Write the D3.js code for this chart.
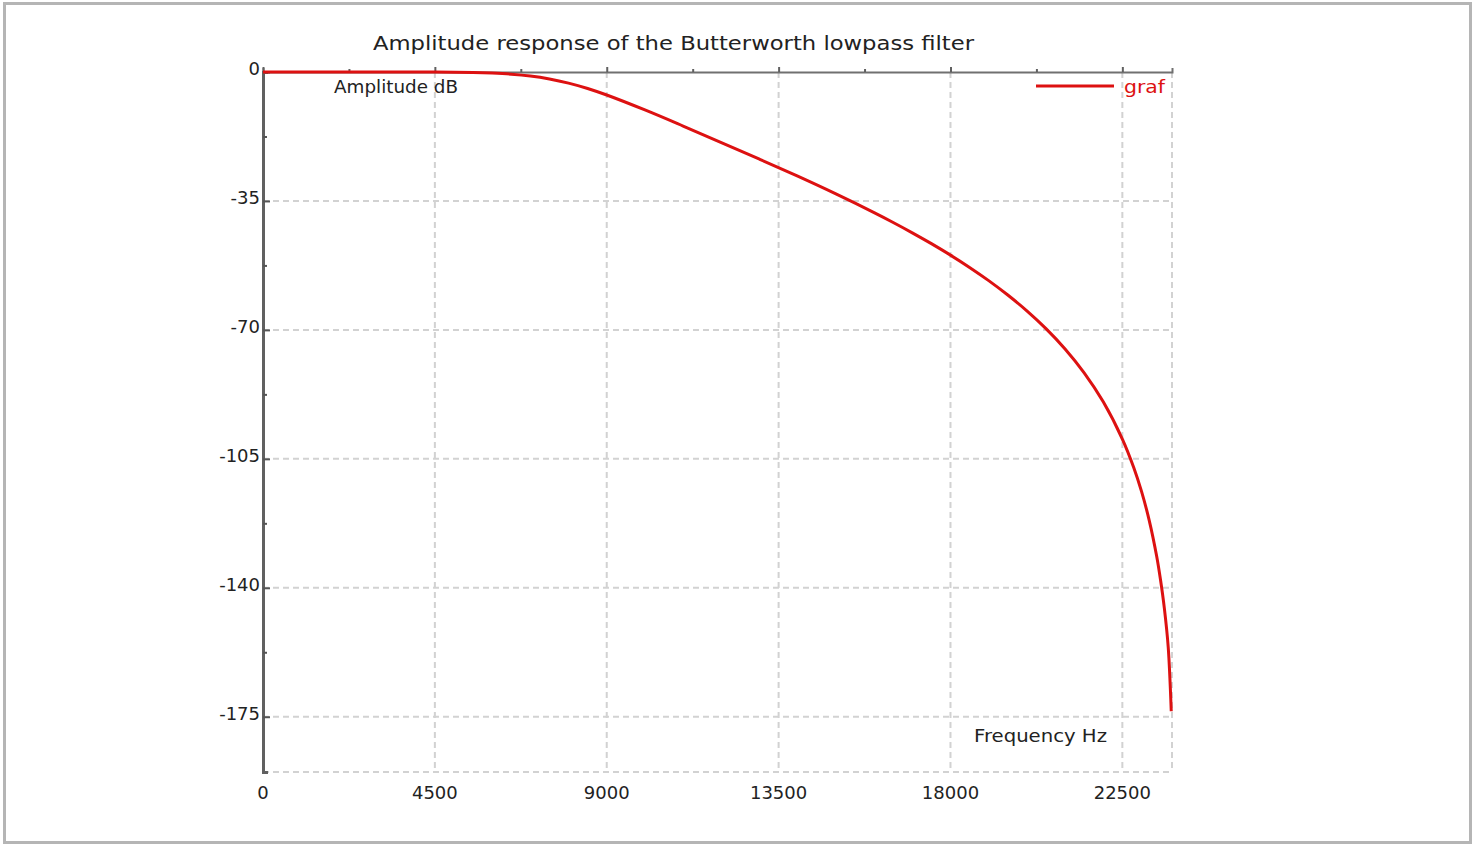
<!DOCTYPE html>
<html>
<head>
  <title>Butterworth amplitude response</title>
  <script src="https://d3js.org/d3.v7.min.js"></script>
  <style>
    body { margin: 0; background: #fff; }
    text { font-family: "DejaVu Sans", sans-serif; fill: #222; }
  </style>
</head>
<body>
  <script>
    // Values
    var freqHz = [0, 1500, 3000, 4500, 5500, 6000, 6500, 7000, 7500, 8000, 8500, 9000,
      10000, 11000, 12000, 13000, 14000, 15000, 16000, 16500, 17000, 17500, 18000, 18500,
      19000, 19500, 20000, 20500, 21000, 21500, 22000, 22500, 22800, 23000, 23200, 23400,
      23500, 23600, 23700, 23780];
    var ampDb = [0, 0, 0, -0.03, -0.14, -0.3, -0.58, -1.08, -1.88, -3.01, -4.47, -6.25,
      -10.31, -14.67, -19.14, -23.67, -28.29, -33.1, -38.17, -40.85, -43.65, -46.59, -49.71, -53.04,
      -56.62, -60.53, -64.84, -69.67, -75.19, -81.66, -89.53, -99.62, -107.4, -113.77, -121.54, -131.5,
      -137.9, -145.6, -156, -173.5];
    var xTicks = [0, 4500, 9000, 13500, 18000, 22500];
    var yTicks = [0, -35, -70, -105, -140, -175];
    var xMinor = [2250, 6750, 11250, 15750, 20250];
    var yMinor = [-17.5, -52.5, -87.5, -122.5, -157.5];

    var width = 1481, height = 845;
    var margin = {top: 72, right: 309, bottom: 73, left: 263};
    var red = "#dd1111";

    var svg = d3.select("body").append("svg")
      .attr("width", width)
      .attr("height", height);

    // outer frame
    svg.append("rect")
      .attr("x", 4.5).attr("y", 3.5)
      .attr("width", 1466).attr("height", 839)
      .attr("fill", "none")
      .attr("stroke", "#b5b5b5")
      .attr("stroke-width", 3);

    var x = d3.scaleLinear()
      .domain([0, 23800])
      .range([margin.left, width - margin.right]);
    var y = d3.scaleLinear()
      .domain([-190, 0])
      .range([height - margin.bottom, margin.top]);

    var data = freqHz.map(function(f, i) { return {f: f, a: ampDb[i]}; });

    // grid
    var gridX = xTicks.slice(1).concat([23800]);
    svg.append("g").selectAll("line")
      .data(gridX)
      .enter().append("line")
      .attr("x1", function(d) { return x(d); })
      .attr("x2", function(d) { return x(d); })
      .attr("y1", y(0)).attr("y2", y(-190))
      .attr("stroke", "#d2d2d2")
      .attr("stroke-width", 2)
      .attr("stroke-dasharray", "6,4");

    var gridY = yTicks.slice(1).concat([-190]);
    svg.append("g").selectAll("line")
      .data(gridY)
      .enter().append("line")
      .attr("x1", x(0)).attr("x2", x(23800))
      .attr("y1", function(d) { return y(d); })
      .attr("y2", function(d) { return y(d); })
      .attr("stroke", "#d2d2d2")
      .attr("stroke-width", 2)
      .attr("stroke-dasharray", "6,4");

    // top axis (at 0 dB) with small upward ticks
    var topAxis = d3.axisTop(x)
      .tickValues(xTicks.concat(xMinor))
      .tickSize(4)
      .tickFormat("");
    svg.append("g")
      .attr("transform", "translate(0," + y(0) + ")")
      .call(topAxis)
      .call(function(g) {
        g.select(".domain").attr("stroke", "#707070").attr("stroke-width", 2);
        g.selectAll(".tick line").attr("stroke", "#606060").attr("stroke-width", 2)
          .attr("y2", function(d) { return xMinor.indexOf(d) >= 0 ? -3 : -5; });
      });

    // left axis with inward ticks
    var leftAxis = d3.axisRight(y)
      .tickValues(yTicks.concat(yMinor))
      .tickSize(5)
      .tickFormat("");
    svg.append("g")
      .attr("transform", "translate(" + x(0) + ",0)")
      .call(leftAxis)
      .call(function(g) {
        g.select(".domain").attr("stroke", "#606060").attr("stroke-width", 3);
        g.selectAll(".tick line").attr("stroke", "#555").attr("stroke-width", 2)
          .attr("x2", function(d) { return yMinor.indexOf(d) >= 0 ? 4 : 7; });
      });

    // y tick labels
    svg.append("g").selectAll("text")
      .data(yTicks)
      .enter().append("text")
      .attr("x", x(0) - 3)
      .attr("y", function(d) { return y(d) + 3; })
      .attr("text-anchor", "end")
      .style("font-size", "18px")
      .text(function(d) { return d; });

    // x tick labels
    svg.append("g").selectAll("text")
      .data(xTicks)
      .enter().append("text")
      .attr("x", function(d) { return x(d); })
      .attr("y", 799)
      .attr("text-anchor", "middle")
      .style("font-size", "18px")
      .text(function(d) { return d; });

    // title and axis names
    svg.append("text")
      .attr("x", 373).attr("y", 50)
      .attr("textLength", 601)
      .attr("lengthAdjust", "spacingAndGlyphs")
      .style("font-size", "20px")
      .text("Amplitude response of the Butterworth lowpass filter");

    svg.append("text")
      .attr("x", 334).attr("y", 93)
      .attr("textLength", 124)
      .attr("lengthAdjust", "spacingAndGlyphs")
      .style("font-size", "18px")
      .text("Amplitude dB");

    svg.append("text")
      .attr("x", 974).attr("y", 742)
      .attr("textLength", 133)
      .attr("lengthAdjust", "spacingAndGlyphs")
      .style("font-size", "18px")
      .text("Frequency Hz");

    // curve
    var line = d3.line()
      .x(function(d) { return x(d.f); })
      .y(function(d) { return y(d.a); })
      .curve(d3.curveCatmullRom);

    svg.append("path")
      .datum(data)
      .attr("fill", "none")
      .attr("stroke", red)
      .attr("stroke-width", 3)
      .attr("d", line);

    // legend
    svg.append("line")
      .attr("x1", 1036).attr("x2", 1114)
      .attr("y1", 86).attr("y2", 86)
      .attr("stroke", red)
      .attr("stroke-width", 3);
    svg.append("text")
      .attr("x", 1124).attr("y", 93)
      .attr("textLength", 41)
      .attr("lengthAdjust", "spacingAndGlyphs")
      .style("font-size", "18px")
      .style("fill", red)
      .text("graf");
  </script>
</body>
</html>
